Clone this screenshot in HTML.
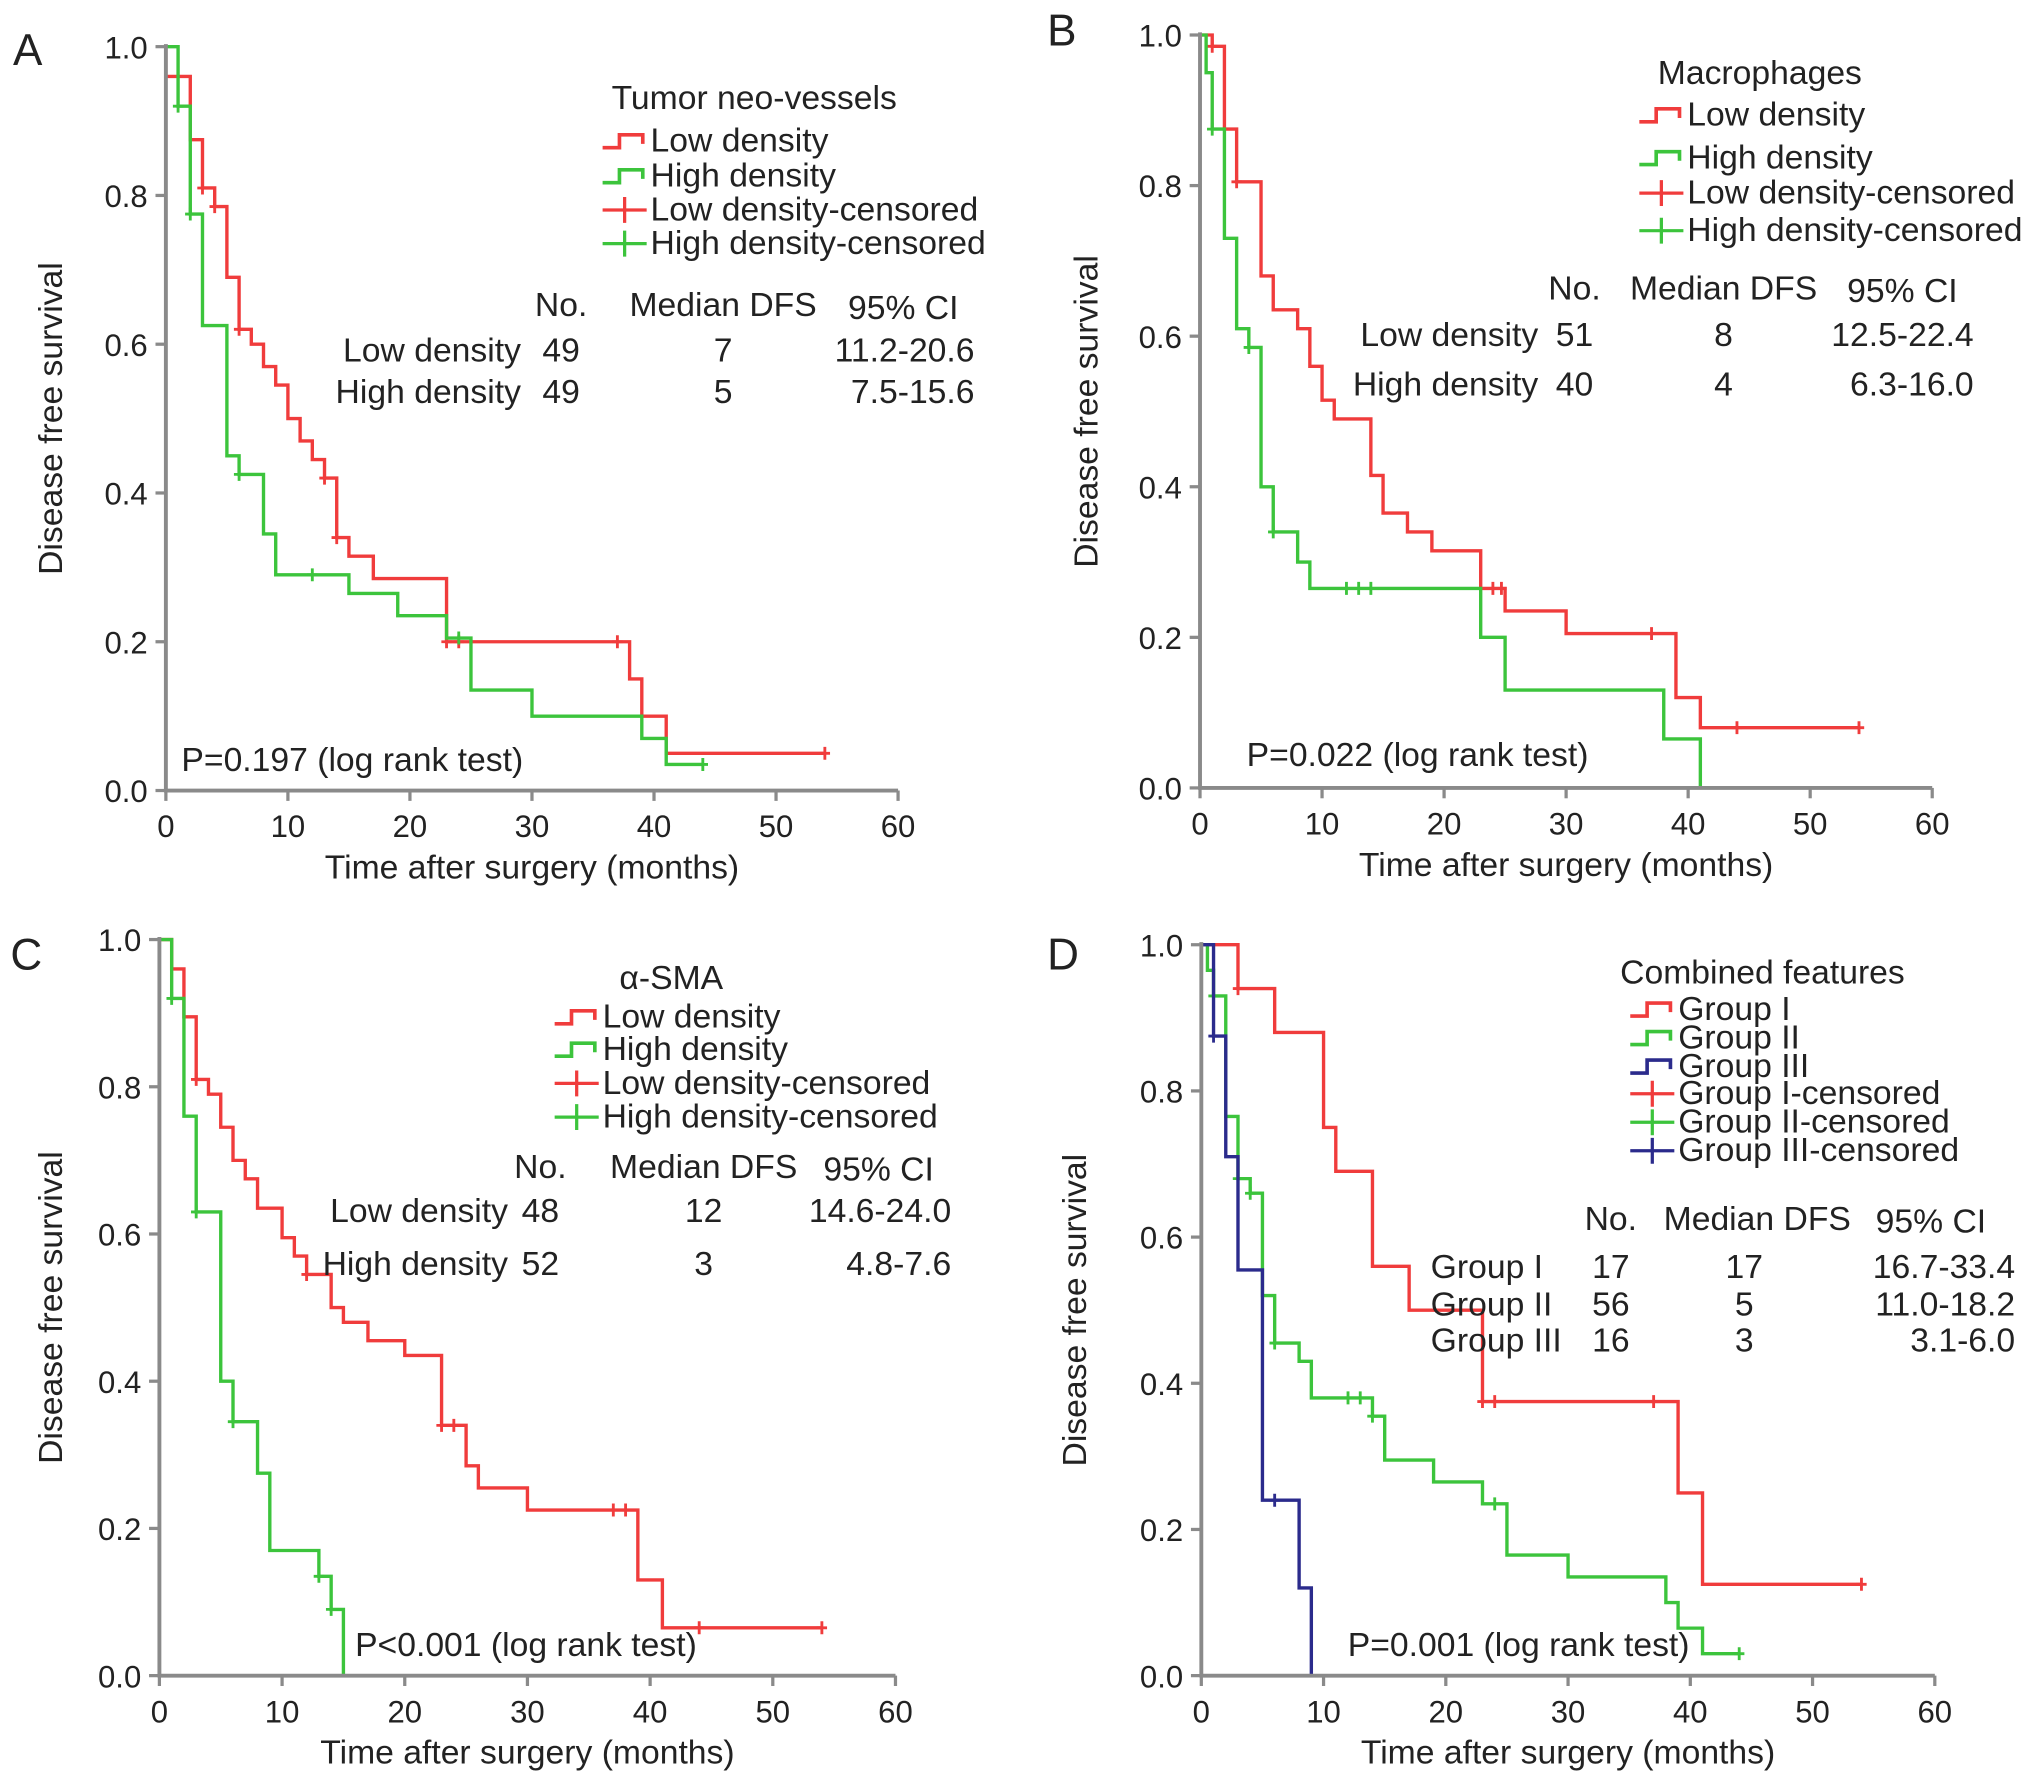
<!DOCTYPE html>
<html><head><meta charset="utf-8"><style>
html,body{margin:0;padding:0;background:#fff}
svg{display:block}
text{font-family:"Liberation Sans",Arial,sans-serif;fill:#222}
</style></head><body>
<svg id="fig" width="2032" height="1788" viewBox="0 0 1568 1379.7" xmlns="http://www.w3.org/2000/svg"></svg>
<script>
// ---- data (time in months, survival after step) ----
const aLowT=[0,2,3,4,5,6,7,8,9,10,11,12,13,14,15,17,23,38,39,41];
const aLowS=[0.96,0.875,0.81,0.785,0.69,0.62,0.6,0.57,0.545,0.5,0.47,0.445,0.42,0.34,0.315,0.285,0.2,0.15,0.1,0.05];
const aLowC=[3,4,6,13,14,23,24,37,54];
const aHighT=[1,2,3,5,6,8,9,15,19,23,25,30,39,41];
const aHighS=[0.92,0.775,0.625,0.45,0.425,0.345,0.29,0.265,0.235,0.205,0.135,0.1,0.07,0.035];
const aHighC=[1,2,6,12,24,44];
const bLowT=[1,2,3,5,6,8,9,10,11,14,15,17,19,23,25,30,39,41];
const bLowS=[0.985,0.875,0.805,0.68,0.635,0.61,0.56,0.515,0.49,0.415,0.365,0.34,0.315,0.265,0.235,0.205,0.12,0.08];
const bLowC=[1,3,24,24.7,37,44,54];
const bHighT=[0.5,1,2,3,4,5,6,8,9,23,25,38,41];
const bHighS=[0.95,0.875,0.73,0.61,0.585,0.4,0.34,0.3,0.265,0.2,0.13,0.065,0];
const bHighC=[1,4,6,12,13,14];
const cLowT=[1,2,3,4,5,6,7,8,10,11,12,14,15,17,20,23,25,26,30,39,41];
const cLowS=[0.96,0.895,0.81,0.79,0.745,0.70,0.675,0.635,0.595,0.57,0.545,0.5,0.48,0.455,0.435,0.34,0.285,0.255,0.225,0.13,0.065];
const cLowC=[3,12,23,24,37,38,44,54];
const cHighT=[1,2,3,5,6,8,9,13,14,15];
const cHighS=[0.92,0.76,0.63,0.40,0.345,0.275,0.17,0.135,0.09,0];
const cHighC=[1,3,6,13,14];
const dG1T=[3,6,10,11,14,17,23,39,41];
const dG1S=[0.94,0.88,0.75,0.69,0.56,0.5,0.375,0.25,0.125];
const dG1C=[3,23,24,37,54];
const dG2T=[0.5,1,2,3,4,5,6,8,9,14,15,19,23,25,30,38,39,41];
const dG2S=[0.965,0.93,0.765,0.68,0.66,0.52,0.455,0.43,0.38,0.355,0.295,0.265,0.235,0.165,0.135,0.1,0.065,0.03];
const dG2C=[1,3,4,6,12,13,14,24,44];
const dG3T=[1,2,3,5,8,9];
const dG3S=[0.875,0.71,0.555,0.24,0.12,0];
const dG3C=[1,6];
const xTicks=[0,10,20,30,40,50,60];
const yTicks=[0,0.2,0.4,0.6,0.8,1.0];

const NS="http://www.w3.org/2000/svg";
const svg=document.getElementById('fig');
const FS=26, TFS=24;
function mk(tag,attrs,parent){const e=document.createElementNS(NS,tag);for(const k in attrs)e.setAttribute(k,attrs[k]);(parent||svg).appendChild(e);return e;}
function txt(s,x,y,size,anchor,parent,name){const t=mk('text',{x:x,y:y,'font-size':size,'text-anchor':anchor||'start'},parent);t.textContent=s;


return t;}
const RED='#f03c3c',GREEN='#3cc43c',BLUE='#2b2b8c',AX='#8a8a8a';

function panel(p){
  const g=mk('g',{});
  
  
  const X=t=>p.x0+(p.x1-p.x0)*t/60, Y=s=>p.y0+(p.y1-p.y0)*s;
  p.series.forEach(sr=>{
    let d='M'+X(0)+','+Y(1);let cur=1;
    sr.t.forEach((t,i)=>{d+=' H'+X(t)+' V'+Y(sr.s[i]);cur=sr.s[i];});
    const end=Math.max(sr.t[sr.t.length-1],...sr.c);
    if(cur>0)d+=' H'+X(end);
    const path=mk('path',{d:d,fill:'none',stroke:sr.col,'stroke-width':2.6},g);
    
    
    sr.c.forEach(ct=>{
      let s=1;sr.t.forEach((t,i)=>{if(t<=ct)s=sr.s[i];});
      const m=mk('path',{d:'M'+(X(ct)-4)+','+Y(s)+' h8 M'+X(ct)+','+(Y(s)-5)+' v10',stroke:sr.col,'stroke-width':2.2},g);
      
      
    });
  });
  const ax=mk('path',{d:'M'+p.x0+','+(p.y1-2)+' V'+p.y0+' H'+p.x1,fill:'none',stroke:AX,'stroke-width':3},g);
  
  
  xTicks.forEach(v=>{mk('line',{x1:X(v),x2:X(v),y1:p.y0,y2:p.y0+8,stroke:AX,'stroke-width':2.5},g);
    txt(String(v),X(v),p.y0+36,TFS,'middle',g,'x-tick-label');});
  yTicks.forEach(v=>{mk('line',{x1:p.x0-8,x2:p.x0,y1:Y(v),y2:Y(v),stroke:AX,'stroke-width':2.5},g);
    txt(v.toFixed(1),p.x0-14,Y(v)+9,TFS,'end',g,'y-tick-label');});
  const yt=txt('Disease free survival',0,0,FS,'middle',g,'y-axis-title');
  yt.setAttribute('transform','translate('+p.ytx+','+((p.y0+p.y1)/2)+') rotate(-90)');
  txt('Time after surgery (months)',(p.x0+p.x1)/2,p.y0+68,FS,'middle',g,'x-axis-title');
  txt(p.id,p.lx,p.ly,34,'start',g,'panel-letter');
  txt(p.title,p.tcx,p.ty,FS,'middle',g,'legend-title');
  p.leg.forEach((l,i)=>{
    const y=p.legY[i];
    const ic=l.cens?mk('path',{d:'M'+p.legX+','+(y-8)+' h34 M'+(p.legX+17)+','+(y-18)+' v20',stroke:l.col,'stroke-width':2.5,fill:'none'},g)
      :mk('path',{d:'M'+p.legX+','+(y-3)+' h13 v-10 h18 v7',stroke:l.col,'stroke-width':2.8,fill:'none'},g);
    
    
    txt(l.label,p.legX+37,y,FS,'start',g,'legend-entry');
  });
  const tb=p.tab;
  txt('No.',tb.c1,tb.hy,FS,'middle',g,'table-header');
  txt('Median DFS',tb.c2,tb.hy,FS,'middle',g,'table-header');
  txt('95% CI',tb.c3,tb.hy+2,FS,'middle',g,'table-header');
  tb.rows.forEach((r,i)=>{const y=tb.ry[i];
    txt(r[0],tb.lx,y,FS,tb.la,g,'table-row-label');
    txt(r[1],tb.c1,y,FS,'middle',g,'table-no');
    txt(r[2],tb.c2m||tb.c2,y,FS,'middle',g,'table-median');
    txt(r[3],tb.cr,y,FS,'end',g,'table-ci');});
  txt(p.pText,p.px,p.py,FS,'start',g,'p-value-label');
}
const legRG=()=>[{col:RED,label:'Low density'},{col:GREEN,label:'High density'},{col:RED,label:'Low density-censored',cens:1},{col:GREEN,label:'High density-censored',cens:1}];
panel({id:'A',x0:128,x1:693,y0:610,y1:36,ytx:48,lx:10,ly:50,title:'Tumor neo-vessels',tcx:582,ty:84,
  legX:465,legY:[117,144,170,196],leg:legRG(),
  series:[{name:'low-density',col:RED,t:aLowT,s:aLowS,c:aLowC},{name:'high-density',col:GREEN,t:aHighT,s:aHighS,c:aHighC}],
  tab:{c1:433,c2:558,c3:697,hy:244,lx:402,la:'end',cr:752,ry:[279,311],rows:[['Low density','49','7','11.2-20.6'],['High density','49','5','7.5-15.6']]},
  pText:'P=0.197 (log rank test)',px:140,py:595});
panel({id:'B',x0:926,x1:1491,y0:608,y1:27,ytx:847,lx:808,ly:35,title:'Macrophages',tcx:1358,ty:65,
  legX:1265,legY:[97,130,157,186],leg:legRG(),
  series:[{name:'low-density',col:RED,t:bLowT,s:bLowS,c:bLowC},{name:'high-density',col:GREEN,t:bHighT,s:bHighS,c:bHighC}],
  tab:{c1:1215,c2:1330,c3:1468,hy:231,lx:1187,la:'end',cr:1523,ry:[267,305],rows:[['Low density','51','8','12.5-22.4'],['High density','40','4','6.3-16.0']]},
  pText:'P=0.022 (log rank test)',px:962,py:591});
panel({id:'C',x0:123,x1:691,y0:1293,y1:725,ytx:48,lx:8,ly:748,title:'\u03b1-SMA',tcx:518,ty:763,
  legX:428,legY:[793,818,844,870],leg:legRG(),
  series:[{name:'low-density',col:RED,t:cLowT,s:cLowS,c:cLowC},{name:'high-density',col:GREEN,t:cHighT,s:cHighS,c:cHighC}],
  tab:{c1:417,c2:543,c3:678,hy:909,lx:392,la:'end',cr:734,ry:[943,984],rows:[['Low density','48','12','14.6-24.0'],['High density','52','3','4.8-7.6']]},
  pText:'P<0.001 (log rank test)',px:274,py:1278});
panel({id:'D',x0:927,x1:1493,y0:1293,y1:729,ytx:838,lx:808,ly:748,title:'Combined features',tcx:1360,ty:759,
  legX:1258,legY:[787,809,831,852,874,896],
  leg:[{col:RED,label:'Group I'},{col:GREEN,label:'Group II'},{col:BLUE,label:'Group III'},{col:RED,label:'Group I-censored',cens:1},{col:GREEN,label:'Group II-censored',cens:1},{col:BLUE,label:'Group III-censored',cens:1}],
  series:[{name:'group-1',col:RED,t:dG1T,s:dG1S,c:dG1C},{name:'group-2',col:GREEN,t:dG2T,s:dG2S,c:dG2C},{name:'group-3',col:BLUE,t:dG3T,s:dG3S,c:dG3C}],
  tab:{c1:1243,c2:1356,c2m:1346,c3:1490,hy:949,lx:1104,la:'start',cr:1555,ry:[986,1015,1043],rows:[['Group I','17','17','16.7-33.4'],['Group II','56','5','11.0-18.2'],['Group III','16','3','3.1-6.0']]},
  pText:'P=0.001 (log rank test)',px:1040,py:1278});
</script>
</body></html>
